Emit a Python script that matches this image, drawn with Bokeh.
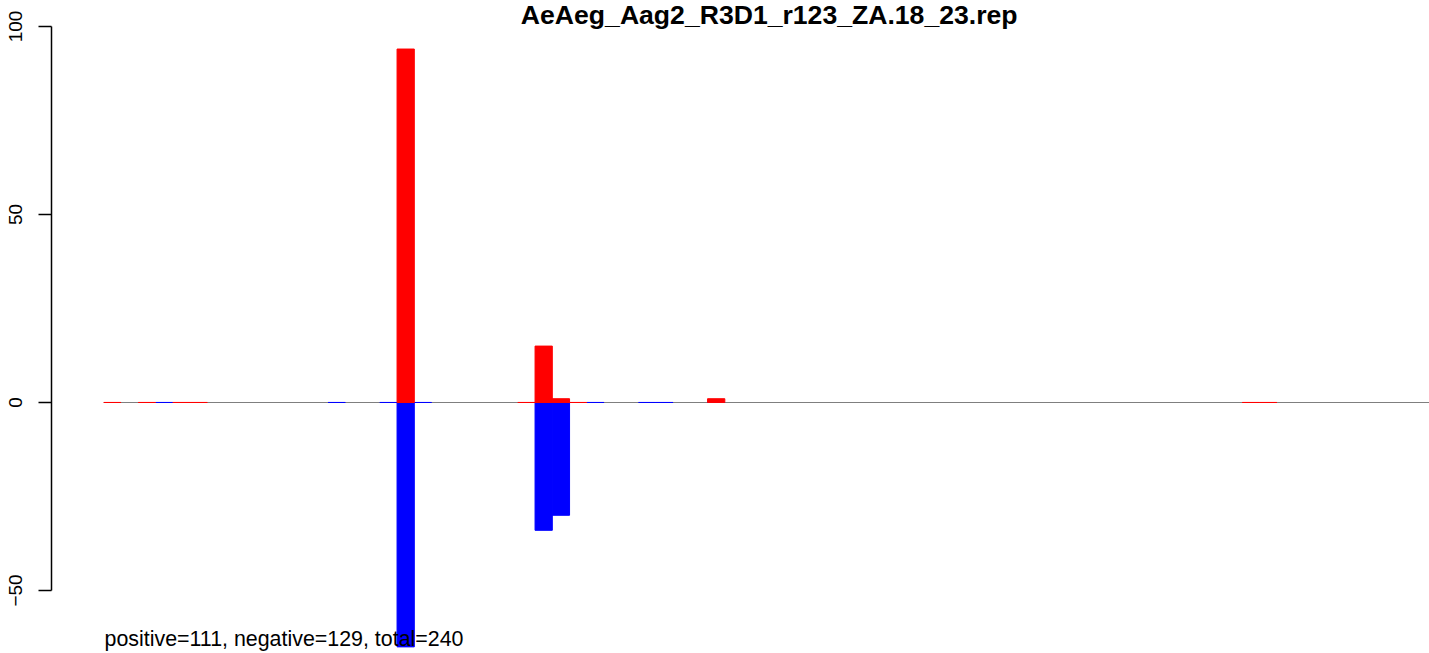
from bokeh.plotting import figure
from bokeh.models import ColumnDataSource, Range1d, LinearAxis, FixedTicker, Label
from bokeh.embed import file_html
from bokeh.resources import INLINE

# ---- data ----
title_text = "AeAeg_Aag2_R3D1_r123_ZA.18_23.rep"
n_slots = 77
pos_slots = [0, 2, 4, 5, 17, 24, 25, 26, 27, 35, 66, 67]
pos_vals = [0, 0, 0, 0, 94, 0, 15, 1, 0, 1, 0, 0]
neg_slots = [3, 13, 16, 17, 18, 25, 26, 28, 31, 32, 35]
neg_vals = [0, 0, 0, -65, 0, -34, -30, 0, 0, 0, 0]
y_ticks = [-50, 0, 50, 100]
summary = "positive=111, negative=129, total=240"

# ---- figure geometry ----
W, H = 1429, 653
x_start, x_end = -5.988, 76.85
y_start, y_end = -66.76, 106.91

p = figure(width=W, height=H, output_backend="svg", toolbar_location=None,
           x_axis_location=None, y_axis_location=None,
           x_range=Range1d(x_start, x_end), y_range=Range1d(y_start, y_end),
           min_border_left=0, min_border_right=0, min_border_top=0, min_border_bottom=0)
p.outline_line_color = None
p.grid.visible = False
p.background_fill_color = "white"
p.border_fill_color = "white"

# zero line
p.segment(x0=[0], y0=[0], x1=[n_slots], y1=[0], line_color="#7f7f7f", line_width=1.2)

pos_src = ColumnDataSource(dict(x=[s + 0.5 for s in pos_slots], top=pos_vals))
neg_src = ColumnDataSource(dict(x=[s + 0.5 for s in neg_slots], top=neg_vals))
p.vbar(x="x", top="top", bottom=0, width=1.0, source=neg_src,
       fill_color="#0000ff", line_color="#0000ff", line_width=1)
p.vbar(x="x", top="top", bottom=0, width=1.0, source=pos_src,
       fill_color="#ff0000", line_color="#ff0000", line_width=1)

# y axis, drawn at the left edge of the plotting region
axis_x = x_start + 51 / W * (x_end - x_start)
yaxis = LinearAxis(ticker=FixedTicker(ticks=y_ticks), bounds=(y_ticks[0], y_ticks[-1]),
                   fixed_location=axis_x)
yaxis.major_label_orientation = "parallel"
yaxis.major_tick_out = 13
yaxis.major_tick_in = 0
yaxis.minor_tick_out = 0
yaxis.minor_tick_in = 0
yaxis.axis_line_width = 1.5
yaxis.major_tick_line_width = 1.5
yaxis.axis_line_color = "black"
yaxis.major_tick_line_color = "black"
yaxis.major_label_text_font = "Liberation Sans"
yaxis.major_label_text_font_size = "19px"
yaxis.major_label_text_color = "black"
yaxis.major_label_standoff = 16
p.add_layout(yaxis, "left")

title = Label(x=768.7, y=H - 14.5, x_units="screen", y_units="screen", text=title_text,
              text_font="Liberation Sans", text_font_style="bold", text_font_size="26.6px",
              text_align="center", text_baseline="alphabetic", text_color="black")
p.add_layout(title)

note = Label(x=104, y=14.5, x_units="screen", y_units="screen", text=summary,
             text_font="Liberation Sans", text_font_size="21.4px",
             text_align="left", text_baseline="alphabetic", text_color="black")
p.add_layout(note)

open("out.html", "w").write(file_html(p, INLINE))
